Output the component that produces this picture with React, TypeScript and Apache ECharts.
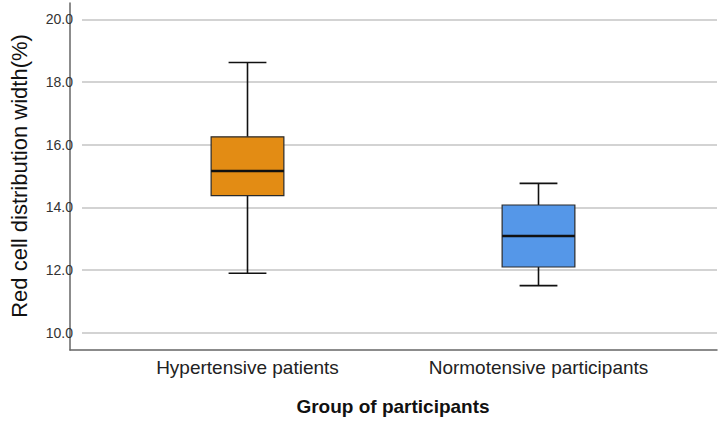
import React, { useEffect, useRef } from "react";
import * as echarts from "echarts";

const categories = ["Hypertensive patients", "Normotensive participants"];
const lowerWhisker = [11.8, 11.4];
const q1 = [14.3, 12.0];
const median = [15.1, 13.0];
const q3 = [16.2, 14.0];
const upperWhisker = [18.6, 14.7];
const boxColors = ["#E38C14", "#5597E8"];
const yTickMin = 10;
const yTickMax = 20;
const yTickStep = 2;
const yAxisTitle = "Red cell distribution width(%)";
const xAxisTitle = "Group of participants";

const FONT = "'Liberation Sans', Arial, sans-serif";
const Y_MIN = 9.45;
const Y_MAX = 20.52;

export default function App() {
  const ref = useRef<HTMLDivElement>(null);
  useEffect(() => {
    document.body.style.margin = "0";
    if (!ref.current) return;
    const chart = echarts.init(ref.current, null, { renderer: "svg" });
    const data = categories.map((_, i) => [i, lowerWhisker[i], q1[i], median[i], q3[i], upperWhisker[i]]);
    chart.setOption({
      animation: false,
      backgroundColor: "#ffffff",
      textStyle: { fontFamily: FONT },
      grid: [
        { left: 70, right: 1, top: 19.3, bottom: 88.3 },
        { left: 70, right: 1, top: 3, bottom: 71 },
        { left: 102, right: 34, top: 3, bottom: 71 },
      ],
      xAxis: [
        { gridIndex: 0, type: "value", min: 0, max: 1, show: false },
        {
          gridIndex: 1, type: "value", min: 0, max: 1,
          axisLine: { show: true, lineStyle: { color: "#666", width: 1.5 } },
          axisTick: { show: false }, axisLabel: { show: false }, splitLine: { show: false },
        },
        {
          gridIndex: 2, type: "category", data: categories,
          axisLine: { show: false }, axisTick: { show: false },
          axisLabel: { margin: 12, fontSize: 19, color: "#222", fontFamily: FONT },
          name: xAxisTitle, nameLocation: "middle", nameGap: 51,
          nameTextStyle: { fontSize: 19, fontWeight: "bold", color: "#111", fontFamily: FONT },
        },
      ],
      yAxis: [
        {
          gridIndex: 0, type: "value", min: yTickMin, max: yTickMax, interval: yTickStep,
          axisLine: { show: false }, axisTick: { show: false },
          axisLabel: { margin: 9, fontSize: 14, color: "#333", fontFamily: FONT, formatter: (v: number) => v.toFixed(1) },
          splitLine: { show: true, lineStyle: { color: "#c4c4c4", width: 1.5 } },
          name: yAxisTitle, nameLocation: "middle", nameRotate: 90, nameGap: 52,
          nameTextStyle: { fontSize: 22, color: "#111", fontFamily: FONT },
        },
        {
          gridIndex: 1, type: "value", min: Y_MIN, max: Y_MAX,
          axisLine: { show: true, lineStyle: { color: "#666", width: 1.5 } },
          axisTick: { show: false }, axisLabel: { show: false }, splitLine: { show: false },
        },
        { gridIndex: 2, type: "value", min: Y_MIN, max: Y_MAX, show: false },
      ],
      series: [
        {
          type: "custom",
          xAxisIndex: 2,
          yAxisIndex: 2,
          data,
          encode: { x: 0, y: [1, 2, 3, 4, 5] },
          renderItem: (params: any, api: any) => {
            const idx = api.value(0);
            const pLow = api.coord([idx, api.value(1)]);
            const pQ1 = api.coord([idx, api.value(2)]);
            const pMed = api.coord([idx, api.value(3)]);
            const pQ3 = api.coord([idx, api.value(4)]);
            const pHigh = api.coord([idx, api.value(5)]);
            const band = api.size([1, 0])[0];
            const bw = band * 0.25;
            const cw = band * 0.13;
            const x = pLow[0];
            const lineStyle = { stroke: "#111", lineWidth: 1.6 };
            return {
              type: "group",
              children: [
                { type: "line", shape: { x1: x, y1: pQ3[1], x2: x, y2: pHigh[1] }, style: lineStyle },
                { type: "line", shape: { x1: x, y1: pQ1[1], x2: x, y2: pLow[1] }, style: lineStyle },
                { type: "line", shape: { x1: x - cw / 2, y1: pHigh[1], x2: x + cw / 2, y2: pHigh[1] }, style: lineStyle },
                { type: "line", shape: { x1: x - cw / 2, y1: pLow[1], x2: x + cw / 2, y2: pLow[1] }, style: lineStyle },
                {
                  type: "rect",
                  shape: { x: x - bw / 2, y: pQ3[1], width: bw, height: pQ1[1] - pQ3[1] },
                  style: { fill: boxColors[idx], stroke: "#2a2a2a", lineWidth: 1.2 },
                },
                { type: "line", shape: { x1: x - bw / 2, y1: pMed[1], x2: x + bw / 2, y2: pMed[1] }, style: { stroke: "#111", lineWidth: 2.6 } },
              ],
            };
          },
        },
      ],
    });
    return () => chart.dispose();
  }, []);
  return <div ref={ref} style={{ width: 718, height: 421 }} />;
}
